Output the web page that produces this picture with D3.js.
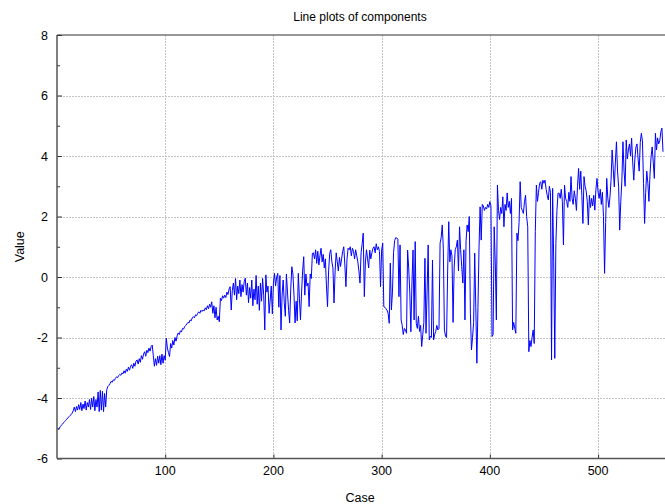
<!DOCTYPE html>
<html>
<head>
<meta charset="utf-8">
<script src="https://cdn.jsdelivr.net/npm/d3@7"></script>
<style>
  body { margin: 0; background: #fff; }
  svg { display: block; font-family: "Liberation Sans", Arial, sans-serif; }
</style>
</head>
<body>
<svg id="chart" width="665" height="504"></svg>
<script>
// chart texts
var chartTitle = "Line plots of components";
var xTitle = "Case";
var yTitle = "Value";

// axis ticks
var xTicks = [100, 200, 300, 400, 500];
var yTicks = [-6, -4, -2, 0, 2, 4, 6, 8];
var yMinorTicks = [-5, -3, -1, 1, 3, 5, 7];

// component values, one per case (case 1 .. 560)
var vals1 = [-5.05,-5.0,-4.95,-4.9,-4.87,-4.82,-4.78,-4.74,-4.7,-4.66,-4.62,-4.58,-4.55,-4.5,
  -4.42,-4.3,-4.45,-4.28,-4.4,-4.22,-4.38,-4.15,-4.42,-4.2,-4.35,-4.1,-4.4,-4.15,-4.3,-4.05,
  -4.38,-4.0,-4.3,-3.95,-4.42,-4.05,-4.3,-3.8,-4.45,-3.75,-4.4,-3.78,-4.45,-3.85,-4.3,
  -3.72,-3.62,-3.58,-3.52,-3.45,-3.48,-3.4,-3.42,-3.35,-3.3,-3.33,-3.26,-3.22,-3.25,-3.17,
  -3.2,-3.1,-3.18,-3.05,-3.12,-2.98,-3.08,-2.95,-2.9,-3.02,-2.85,-2.95,-2.78,-2.74,-2.88,
  -2.7,-2.82,-2.6,-2.72,-2.55,-2.47,-2.62,-2.42,-2.5,-2.35,-2.45,-2.3,-2.25,
  -2.6,-2.95,-2.7,-2.92,-2.62,-2.85,-2.6,-2.9,-2.55,-2.85,-2.6,-2.75];
var vals2 = [-2.02,-2.35,-2.5,-2.63,-2.2,-2.35,-2.1,-2.25,-2.0,-2.12,-1.95,-1.85,-1.9,-1.78,
  -1.82,-1.7,-1.72,-1.64,-1.6,-1.55,-1.5,-1.52,-1.42,-1.45,-1.35,-1.31,-1.35,-1.25,-1.28,-1.2,
  -1.15,-1.2,-1.1,-1.14,-1.09,-1.12,-1.02,-1.08,-0.95,-1.05,-0.9,-1.0,-0.82,
  -1.2,-0.95,-1.35,-1.0,-1.42,-1.3,-1.48,-0.7,-0.78,-0.62,-0.7,-0.6,-0.68,-0.5,-0.58,-0.4,-0.32,
  -1.09,-0.45,-0.2,-0.6,-0.05,-0.75,-0.3,-0.55,-0.1,-0.65,-0.25,-0.5,-0.15,-0.04,-0.6,-0.2,
  -0.85,-0.35,-0.7,-0.1,-0.95,-0.4,-0.75,0.05,-0.9,-0.3,-1.1,-0.2,-0.8,-0.05,-0.6,-1.75,
  0.07,-0.5,-0.3,-1.2,-0.76,-0.3,-1.22,-0.2];
var vals3 = [0.12,-0.3,0.0,0.12,-1.0,0.05,-1.75,-0.6,-0.1,-0.85,-1.3,0.1,-0.5,-1.1,-1.52,-0.4,
  0.34,0.1,-0.6,-1.52,-0.8,-1.45,0.12,-0.7,-1.42,-0.5,0.2,0.67,-0.6,0.1,-0.3,-0.2,-0.98,0.1,
  -0.05,0.78,0.8,0.6,0.9,0.45,0.85,0.4,0.7,0.95,0.5,0.75,0.3,0.6,-0.3,-0.98,0.2,0.78,0.9,0.5,
  0.3,-0.86,0.2,0.8,0.5,0.2,0.65,0.35,0.6,0.85,1.0,0.4,-0.32,0.6,0.95,0.9,1.0,0.7,0.95,0.85,
  0.6,0.9,0.7,0.5,0.2,-0.2,0.8,1.1,1.45,-0.65,0.5,0.9,0.6,0.3,0.89,0.6,
  0.8,0.95,1.0,0.8,1.1,0.9,1.0,0.85,-0.32,0.9];
var vals4 = [1.12,-0.98,-1.0,-1.05,-1.1,-1.2,-1.53,0.46,-1.09,-0.5,0.8,1.2,1.3,1.29,1.25,-0.65,
  1.06,-1.42,-1.6,-1.9,-1.7,-1.75,-1.86,0.89,0.3,-0.5,-1.81,-0.2,0.89,-1.42,1.17,-1.53,-1.7,
  -1.3,-1.8,-1.6,-2.3,-1.9,-1.5,0.62,-1.86,-0.5,1.06,-2.08,-1.95,-2.0,0.56,-2.08,-1.9,-1.8,
  -1.6,-1.75,-1.7,1.12,1.3,1.72,0.95,-1.75,-1.95,-2.0,0.2,1.83,0.5,0.9,0.7,-1.5,0.3,0.9,1.0,
  1.22,0.2,1.66,0.9,0.34,-0.2,0.9,-1.42,1.2,1.72,1.5,2.0,-1.2,-2.41,-2.0,-1.5,0.79,-1.0,
  -2.85,-1.0,1.0,2.32,1.22,2.4,2.35,2.2,2.3,2.25,2.4,2.3,2.49];
var vals5 = [2.35,-1.97,-1.9,1.66,0.5,-1.42,3.04,2.2,1.9,2.3,2.1,2.65,1.66,2.4,2.2,2.78,2.3,
  2.5,2.1,2.6,-1.75,-1.5,-1.7,-1.86,1.45,1.2,1.8,3.15,2.3,2.2,2.1,2.5,2.7,2.0,1.66,-2.47,
  -2.1,-2.3,-2.0,-1.75,-2.2,1.5,3.04,2.5,2.8,3.1,3.15,2.9,3.2,3.1,3.2,2.9,2.7,2.55,3.0,2.8,
  -2.74,2.93,0.5,-2.69,1.11,2.2,2.77,2.77,2.6,2.9,2.5,1.06,3.04,2.6,2.5,2.3,2.8,2.5,3.32,
  2.6,2.4,2.85,2.6,2.2,3.0,3.59,2.9,3.5,2.7,1.77,3.32,3.0,2.85,2.5,1.72,2.7,2.3,2.6,2.35,
  2.7,2.21,2.9,3.26,2.8];
var vals6 = [2.6,2.9,2.4,2.8,2.0,0.12,1.8,3.26,2.6,2.3,2.65,3.2,4.2,3.6,2.98,3.8,4.47,3.5,
  2.98,1.55,2.5,3.2,4.47,3.5,3.0,4.53,3.9,4.2,4.4,4.0,4.59,3.8,3.2,3.9,4.3,4.4,3.9,3.5,4.45,
  4.75,4.5,3.1,1.77,2.8,3.5,3.1,2.5,3.4,3.98,4.3,3.8,3.26,4.75,4.2,4.6,4.4,4.5,4.8,4.92,4.14];

var values = vals1.concat(vals2, vals3, vals4, vals5, vals6);
var data = values.map(function(v, i) { return {c: i + 1, v: v}; });

var plot = {left: 57, right: 663, top: 35, bottom: 458.5};

var svg = d3.select("#chart");

var x = d3.scaleLinear().domain([0, 560]).range([plot.left, plot.right]);
var y = d3.scaleLinear().domain([-6, 8]).range([plot.bottom, plot.top]);

// grid
var grid = svg.append("g")
    .attr("stroke", "#c4c4c4")
    .attr("stroke-width", 1)
    .attr("stroke-dasharray", "2,1");
grid.selectAll(".gx").data(xTicks).enter().append("line")
    .attr("x1", function(d) { return Math.round(x(d)) + 0.5; })
    .attr("x2", function(d) { return Math.round(x(d)) + 0.5; })
    .attr("y1", plot.top).attr("y2", plot.bottom);
grid.selectAll(".gy").data(yTicks.filter(function(d) { return d > -6 && d < 8; })).enter().append("line")
    .attr("x1", plot.left).attr("x2", plot.right + 2)
    .attr("y1", function(d) { return Math.round(y(d)) + 0.5; })
    .attr("y2", function(d) { return Math.round(y(d)) + 0.5; });

// data line
var line = d3.line()
    .x(function(d) { return x(d.c); })
    .y(function(d) { return y(d.v); });

svg.append("path")
    .datum(data)
    .attr("fill", "none")
    .attr("stroke", "#0000ff")
    .attr("stroke-width", 1)
    .attr("d", line);

// axes: ticks point inward
var xAxis = d3.axisTop(x).tickValues(xTicks).tickSize(4).tickFormat("");
svg.append("g")
    .attr("transform", "translate(0," + plot.bottom + ")")
    .call(xAxis)
    .call(function(g) { g.select(".domain").remove(); })
    .selectAll("line").attr("stroke", "#333");

var yAxis = d3.axisRight(y).tickValues(yTicks).tickSize(5).tickFormat("");
svg.append("g")
    .attr("transform", "translate(" + plot.left + ",0)")
    .call(yAxis)
    .call(function(g) { g.select(".domain").remove(); })
    .selectAll("line").attr("stroke", "#333");

var yMinor = d3.axisRight(y).tickValues(yMinorTicks).tickSize(3).tickFormat("");
svg.append("g")
    .attr("transform", "translate(" + plot.left + ",0)")
    .call(yMinor)
    .call(function(g) { g.select(".domain").remove(); })
    .selectAll("line").attr("stroke", "#333");

// frame lines: left, bottom, top
svg.append("line")
    .attr("x1", plot.left).attr("x2", plot.left)
    .attr("y1", plot.top).attr("y2", plot.bottom)
    .attr("stroke", "#555").attr("stroke-width", 1.5);
svg.append("line")
    .attr("x1", plot.left).attr("x2", 665)
    .attr("y1", plot.bottom).attr("y2", plot.bottom)
    .attr("stroke", "#555").attr("stroke-width", 1.5);
svg.append("line")
    .attr("x1", plot.left).attr("x2", 665)
    .attr("y1", plot.top).attr("y2", plot.top)
    .attr("stroke", "#333").attr("stroke-width", 1.2);

// tick labels
svg.append("g").selectAll("text").data(xTicks).enter().append("text")
    .attr("x", function(d) { return x(d); })
    .attr("y", 475)
    .attr("text-anchor", "middle")
    .attr("font-size", 12.5)
    .text(function(d) { return d; });

svg.append("g").selectAll("text").data(yTicks).enter().append("text")
    .attr("x", 48)
    .attr("y", function(d) { return y(d) + 4.5; })
    .attr("text-anchor", "end")
    .attr("font-size", 12.5)
    .text(function(d) { return d; });

// titles
svg.append("text")
    .attr("x", (plot.left + plot.right) / 2)
    .attr("y", 21)
    .attr("text-anchor", "middle")
    .attr("font-size", 12)
    .text(chartTitle);

svg.append("text")
    .attr("x", (plot.left + plot.right) / 2)
    .attr("y", 502)
    .attr("text-anchor", "middle")
    .attr("font-size", 12.5)
    .text(xTitle);

svg.append("text")
    .attr("transform", "translate(24," + y(1) + ") rotate(-90)")
    .attr("text-anchor", "middle")
    .attr("font-size", 12.5)
    .text(yTitle);
</script>
</body>
</html>
